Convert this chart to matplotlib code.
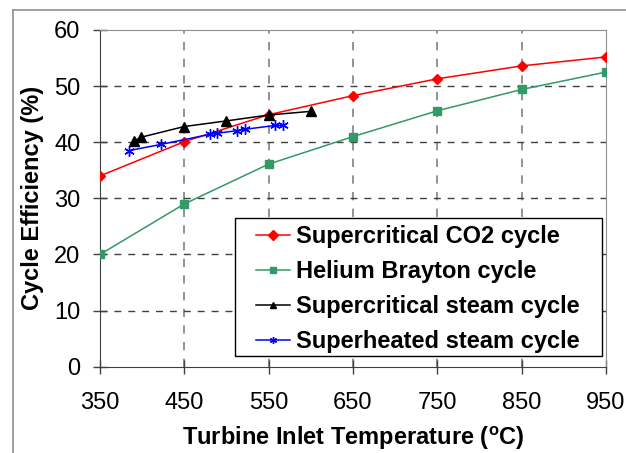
import numpy as np
import matplotlib.pyplot as plt
from matplotlib.lines import Line2D
from matplotlib.patches import Rectangle

plt.rcParams['font.family'] = ['Liberation Sans', 'DejaVu Sans']
plt.rcParams['mathtext.fontset'] = 'custom'
plt.rcParams['mathtext.rm'] = 'Liberation Sans'
plt.rcParams['mathtext.bf'] = 'Liberation Sans:bold'

# data
co2_T = [350, 450, 550, 650, 750, 850, 950]
co2_eff = [34.0, 40.1, 44.9, 48.3, 51.3, 53.6, 55.2]

he_T = [350, 450, 550, 650, 750, 850, 950]
he_eff = [20.0, 29.0, 36.1, 41.0, 45.6, 49.4, 52.5]

sc_steam_T = [390, 399, 450, 500, 550, 600]
sc_steam_eff = [40.2, 40.9, 42.8, 43.8, 44.85, 45.5]

sh_steam_T = [384, 422, 480, 489, 512, 522, 558, 567]
sh_steam_eff = [38.5, 39.6, 41.4, 41.6, 42.05, 42.3, 43.0, 43.0]

xticks = [350, 450, 550, 650, 750, 850, 950]
yticks = [0, 10, 20, 30, 40, 50, 60]

fig = plt.figure(figsize=(6.26, 4.53), dpi=100)
ax = fig.add_axes([0.1597, 0.1905, 0.8083, 0.7433])

ax.plot(co2_T, co2_eff, color='#ff0000', lw=1.1, marker='D', ms=5.5,
        label='Supercritical CO2 cycle', zorder=5)
ax.plot(he_T, he_eff, color='#339966', lw=1.1, marker='s', ms=5.5,
        label='Helium Brayton cycle', zorder=4)
ax.plot(sc_steam_T, sc_steam_eff, color='black', lw=1.1, marker='^', ms=6.5,
        label='Supercritical steam cycle', zorder=6)
ax.plot(sh_steam_T, sh_steam_eff, color='#0000ff', lw=1.1, marker=(6, 2, 0), ms=7.5,
        mew=1.0, label='Superheated steam cycle', zorder=7)

ax.set_xlim(350, 950)
ax.set_ylim(0, 60)
ax.set_xticks(xticks)
ax.set_yticks(yticks)
ax.tick_params(labelsize=17, direction='inout', length=10, width=1, color='#404040')
ax.tick_params(axis='x', pad=13)
ax.tick_params(axis='y', pad=9)

for t in xticks[1:-1]:
    ax.axvline(t, color='#808080', lw=1.2, ls=(0, (5, 5)), zorder=1)
for t in yticks[1:-1]:
    ax.axhline(t, color='#404040', lw=1.0, ls=(0, (5, 5)), zorder=1)

for s in ['left', 'bottom']:
    ax.spines[s].set_color('#404040')
for s in ['top', 'right']:
    ax.spines[s].set_color('#909090')

ax.set_xlabel(r'Turbine Inlet Temperature ($\mathbf{^{o}}$C)', fontsize=17,
              fontweight='bold', va='center')
ax.xaxis.set_label_coords(0.5, -0.212)
ax.set_ylabel('Cycle Efficiency (%)', fontsize=17, fontweight='bold', va='center')
ax.yaxis.set_label_coords(-0.134, 0.5)

# legend box drawn separately so its padding matches the original
ax.add_patch(Rectangle((0.266, 0.032), 0.727, 0.409, transform=ax.transAxes,
                       facecolor='white', edgecolor='black', lw=1.0, zorder=9,
                       clip_on=False))
leg = ax.legend(loc='upper left', bbox_to_anchor=(0.308, 0.4194), borderaxespad=0,
                frameon=False, prop={'weight': 'bold', 'size': 17}, handlelength=1.45,
                handletextpad=0.25, labelspacing=0.5, borderpad=0)
leg.set_zorder(10)
for h in leg.legend_handles:
    h.set_markersize(5)

# outer chart frame (left and top only visible)
fig.add_artist(Line2D([0.0203, 0.0203], [0, 0.978], color='#909090', lw=1.2))
fig.add_artist(Line2D([0.0203, 1.0], [0.978, 0.978], color='#909090', lw=1.2))

fig.savefig('out.png', dpi=100)
